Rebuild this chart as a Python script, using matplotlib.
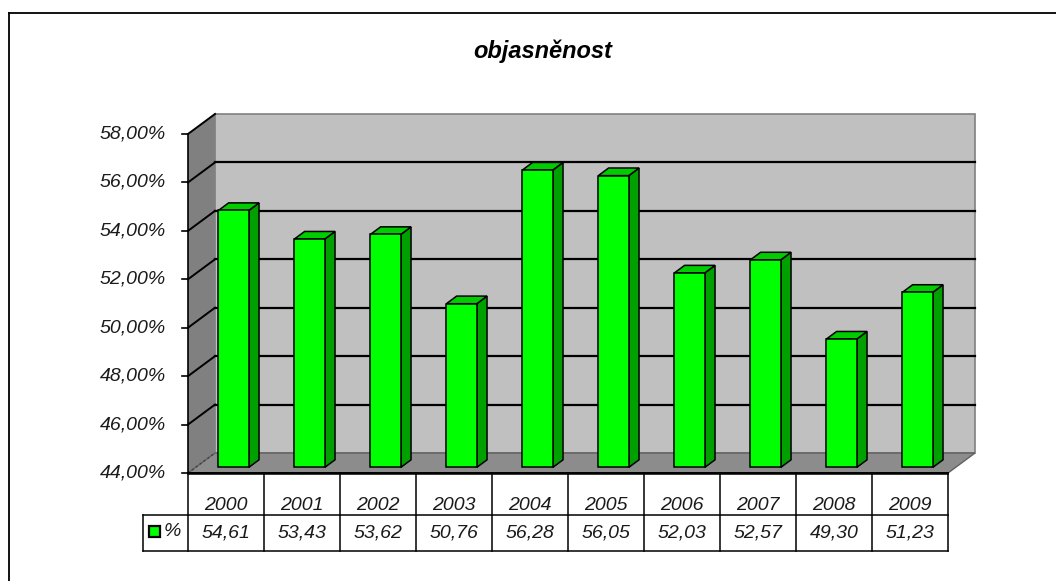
import matplotlib
matplotlib.use('Agg')
import matplotlib.pyplot as plt
from matplotlib.patches import Polygon
from matplotlib.lines import Line2D
from matplotlib.transforms import IdentityTransform

# ---------------- data ----------------
years = ['2000', '2001', '2002', '2003', '2004', '2005', '2006', '2007', '2008', '2009']
values = [54.61, 53.43, 53.62, 50.76, 56.28, 56.05, 52.03, 52.57, 49.30, 51.23]
y_ticks = [44, 46, 48, 50, 52, 54, 56, 58]
title = 'objasněnost'
series_name = '%'

FONT = 'Liberation Sans'
W, H = 1056, 581
fig = plt.figure(figsize=(W / 100, H / 100), dpi=100)
fig.patch.set_facecolor('white')
ax = fig.add_axes([188 / W, (H - 473) / H, 760 / W, (473 - 134) / H])
ax.set_xlim(-0.5, len(years) - 0.5)
ax.set_ylim(y_ticks[0], y_ticks[-1])
ax.axis('off')

DX, DY = 27, 20          # pixel offset of full depth
I = IdentityTransform()


def P(x, y, d=0.0):
    px, py = ax.transData.transform((x, y))
    return (px + DX * d, py + DY * d)


def poly(pts, fc, ec='none', lw=0, z=1, **kw):
    fig.add_artist(Polygon(pts, closed=True, fc=fc, ec=ec, lw=lw,
                           transform=I, zorder=z, joinstyle='miter', **kw))


def line(p0, p1, color='black', lw=1.0, z=2, **kw):
    fig.add_artist(Line2D([p0[0], p1[0]], [p0[1], p1[1]], color=color, lw=lw,
                          transform=I, zorder=z, **kw))


x0, x1 = -0.5, len(years) - 0.5
ymin, ymax = y_ticks[0], y_ticks[-1]

# walls and floor
poly([P(x0, ymin, 1), P(x1, ymin, 1), P(x1, ymax, 1), P(x0, ymax, 1)],
     '#C0C0C0', ec='#808080', lw=1.2, z=1)
poly([P(x0, ymin, 0), P(x0, ymin, 1), P(x0, ymax, 1), P(x0, ymax, 0)],
     '#808080', z=1)
poly([P(x0, ymin, 0), P(x1, ymin, 0), P(x1, ymin, 1), P(x0, ymin, 1)],
     '#8C8C8C', ec='#606060', lw=1.0, z=1.5)
line(P(x0, ymin, 0), P(x0, ymin, 1), color='#404040', lw=1.0, z=1.6, ls=(0, (1.5, 2)))

# gridlines
for v in y_ticks[1:-1]:
    line(P(x0, v, 1), P(x1, v, 1), lw=1.6, z=2)
    line(P(x0, v, 0), P(x0, v, 1), lw=1.4, z=2)
line(P(x0, ymax, 0), P(x0, ymax, 1), lw=1.4, z=2)

# axis line and ticks, labels
line(P(x0, ymin, 0), P(x0, ymax, 0), lw=1.2, z=3)
for v in y_ticks:
    px, py = P(x0, v, 0)
    line((px - 6, py), (px, py), lw=1.2, z=3)
    fig.text(px - 22, py, f'{v:.2f}'.replace('.', ',') + '%', transform=I,
             ha='right', va='center', fontsize=14, style='italic',
             family=FONT, color='#1a1a1a')

# bars
hw, d0, d1 = 0.2, 0.28, 0.66
for i, v in enumerate(values):
    a, b = i - hw, i + hw
    z = 4
    poly([P(b, ymin, d0), P(b, ymin, d1), P(b, v, d1), P(b, v, d0)],
         '#00A000', ec='black', lw=1.1, z=z)
    poly([P(a, v, d0), P(b, v, d0), P(b, v, d1), P(a, v, d1)],
         '#00CC00', ec='black', lw=1.1, z=z)
    poly([P(a, ymin, d0), P(b, ymin, d0), P(b, v, d0), P(a, v, d0)],
         '#00FF00', ec='black', lw=1.1, z=z + 0.1)

# floor front edge
line(P(x0, ymin, 0), P(x1, ymin, 0), lw=1.4, z=5)

# data table
top_y = P(x0, ymin, 0)[1] - 1
mid_y = H - 515
bot_y = H - 551
leg_x = 143
edges = [P(i - 0.5, ymin, 0)[0] for i in range(len(years) + 1)]
line((edges[0], top_y), (edges[-1], top_y), lw=1.1, z=5)
line((leg_x, mid_y), (edges[-1], mid_y), lw=1.1, z=5)
line((leg_x, bot_y), (edges[-1], bot_y), lw=1.1, z=5)
line((leg_x, mid_y), (leg_x, bot_y), lw=1.1, z=5)
for ex in edges:
    line((ex, top_y + 1), (ex, bot_y), lw=1.1, z=5)
for i, (yr, v) in enumerate(zip(years, values)):
    cx = (edges[i] + edges[i + 1]) / 2
    fig.text(cx, H - 505, yr, transform=I, ha='center', va='center',
             fontsize=14, style='italic', family=FONT, color='#1a1a1a')
    fig.text(cx, H - 533, f'{v:.2f}'.replace('.', ','), transform=I,
             ha='center', va='center', fontsize=14, style='italic',
             family=FONT, color='#1a1a1a')

# legend key
poly([(149, H - 526), (160, H - 526), (160, H - 537), (149, H - 537)],
     '#00FF00', ec='black', lw=1.6, z=6)
fig.text(164, H - 532, series_name, transform=I, ha='left', va='center',
         fontsize=14, style='italic', family=FONT, color='#1a1a1a')

# title
fig.text(543, H - 58, title, transform=I, ha='center', va='baseline',
         fontsize=17, weight='bold', style='italic', family=FONT, color='black')

# chart border (top and left visible)
line((9, H - 13), (W, H - 13), lw=1.3, z=7)
line((9, H - 13), (9, 0), lw=1.3, z=7)

fig.savefig('out.png', dpi=100, facecolor='white')
